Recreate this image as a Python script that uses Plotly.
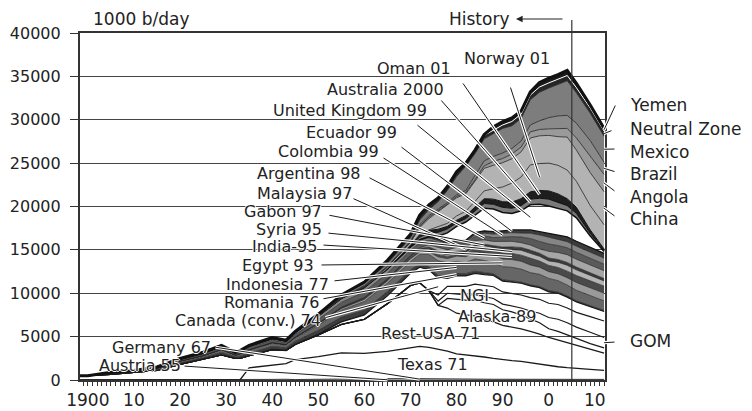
import numpy as np
import plotly.graph_objects as go

# ---------------- data (1000 b/day) ----------------
years = [1898, 1900, 1905, 1910, 1915, 1920, 1925, 1929, 1932, 1933,
         1935, 1940, 1943, 1945, 1950, 1955, 1960, 1965, 1970, 1972,
         1974, 1976, 1978, 1980, 1982, 1984, 1986, 1988, 1990, 1992,
         1994, 1996, 1998, 2000, 2002, 2004, 2006, 2009, 2012]

austria = [0, 0, 0, 0, 0, 0, 0, 0, 0, 0, 0, 20, 30, 20, 30, 60, 50, 50, 40, 35,
           30, 30, 25, 20, 20, 20, 20, 20, 20, 20, 20, 20, 20, 20, 20, 20, 20, 20, 20]
germany = [0, 0, 0, 0, 0, 0, 0, 0, 0, 0, 10, 50, 60, 30, 60, 70, 120, 160, 150, 135,
           120, 100, 95, 90, 80, 80, 80, 70, 70, 70, 70, 60, 60, 60, 60, 50, 50, 50, 50]
texas = [0, 0, 0, 0, 0, 0, 0, 0, 0, 0, 1400, 1600, 1800, 2300, 2600, 3000, 2900, 3100, 3500, 3700,
         3600, 3400, 3200, 2900, 2800, 2700, 2550, 2400, 2250, 2150, 2050, 1900, 1750, 1550, 1450, 1350, 1250, 1150, 1050]
rest_usa = [500, 500, 650, 850, 1100, 1800, 2400, 2900, 2500, 2500, 1390, 1830, 1510, 1750, 2510, 3270, 3930, 5490, 7210, 7330,
            6550, 5070, 4980, 4690, 4600, 4600, 4350, 4210, 3960, 3860, 3760, 3620, 3470, 3270, 3070, 2880, 2680, 2280, 1980]
alaska = [0, 0, 0, 0, 0, 0, 0, 0, 0, 0, 0, 0, 0, 0, 0, 0, 0, 0, 0, 0,
          0, 0, 1100, 1600, 1700, 1800, 1900, 2000, 1800, 1750, 1600, 1450, 1300, 1000, 1000, 900, 800, 700, 600]
gom = [0, 0, 0, 0, 0, 0, 0, 0, 0, 0, 0, 0, 0, 0, 0, 0, 0, 0, 0, 0,
       0, 500, 600, 600, 600, 650, 700, 700, 650, 700, 800, 900, 1100, 1300, 1400, 1400, 1300, 1300, 1200]
ngl = [0, 0, 0, 0, 0, 0, 0, 0, 0, 0, 0, 0, 0, 0, 0, 0, 0, 0, 0, 0,
       0, 700, 800, 900, 1000, 1200, 1300, 1350, 1400, 1450, 1500, 1550, 1600, 1650, 1700, 1700, 1700, 1800, 1900]
canada = [0, 0, 0, 0, 0, 0, 0, 0, 0, 0, 0, 20, 20, 20, 80, 300, 500, 900, 1400, 1800,
          2400, 1900, 900, 1200, 1200, 1250, 1250, 1300, 1250, 1300, 1350, 1350, 1350, 1300, 1300, 1250, 1200, 1150, 1100]
romania = [0, 0, 100, 90, 120, 180, 200, 280, 180, 240, 320, 350, 300, 350, 450, 550, 550, 500, 400, 380,
           380, 350, 300, 280, 260, 250, 230, 200, 160, 140, 140, 130, 130, 160, 150, 150, 140, 130, 120]
indonesia = [0, 0, 100, 100, 150, 200, 220, 300, 180, 240, 320, 370, 300, 380, 600, 800, 1000, 950, 950, 1100,
             1400, 1700, 1500, 1400, 1300, 1400, 1400, 1300, 1500, 1550, 1500, 1400, 1400, 1400, 1300, 1250, 1200, 1150, 1100]
egypt = [0, 0, 0, 0, 0, 0, 0, 50, 30, 40, 60, 80, 70, 90, 150, 200, 250, 280, 330, 280,
         300, 450, 500, 600, 650, 800, 870, 850, 880, 900, 900, 880, 830, 780, 800, 850, 900, 900, 900]
india = [0, 0, 0, 0, 0, 0, 0, 0, 0, 0, 0, 0, 0, 20, 40, 60, 80, 100, 140, 150,
         200, 250, 250, 200, 350, 500, 630, 650, 700, 700, 700, 750, 700, 720, 720, 750, 800, 800, 800]
syria = [0, 0, 0, 0, 0, 0, 0, 0, 0, 0, 0, 0, 0, 0, 0, 20, 40, 40, 80, 120,
         150, 200, 180, 170, 170, 180, 200, 250, 400, 450, 570, 590, 550, 520, 600, 680, 660, 630, 600]
gabon = [0, 0, 0, 0, 0, 0, 0, 0, 0, 0, 0, 0, 0, 0, 20, 40, 60, 60, 110, 120,
         200, 250, 200, 180, 170, 170, 170, 180, 280, 300, 320, 360, 350, 330, 320, 320, 320, 300, 280]
malaysia = [0, 0, 0, 0, 0, 0, 0, 0, 0, 0, 0, 0, 0, 0, 0, 20, 40, 40, 50, 100,
            240, 430, 380, 450, 370, 470, 500, 490, 640, 640, 550, 600, 510, 770, 810, 900, 900, 900, 900]
argentina = [0, 0, 50, 50, 100, 150, 180, 220, 130, 170, 230, 270, 250, 300, 450, 550, 650, 650, 600, 550,
             550, 550, 500, 500, 480, 480, 450, 450, 500, 550, 650, 750, 850, 850, 800, 800, 800, 780, 750]
colombia = [0, 0, 0, 0, 0, 70, 100, 150, 90, 120, 160, 190, 160, 220, 350, 430, 450, 430, 350, 300,
            250, 200, 150, 130, 150, 200, 320, 400, 450, 450, 460, 600, 750, 800, 750, 700, 700, 700, 700]
ecuador = [0, 0, 0, 0, 0, 0, 0, 0, 0, 0, 0, 0, 0, 0, 50, 60, 70, 60, 40, 80,
           180, 200, 200, 200, 210, 250, 280, 280, 290, 320, 360, 390, 380, 420, 450, 550, 580, 560, 550]
united_kingdom = [0, 0, 0, 0, 0, 0, 0, 0, 0, 0, 0, 0, 0, 0, 0, 0, 0, 0, 0, 0,
                  0, 300, 1100, 1600, 2100, 2000, 2600, 2600, 2100, 1900, 2200, 2900, 3150, 3150, 3100, 3000, 2700, 1300, 200]
australia = [0, 0, 0, 0, 0, 0, 0, 0, 0, 0, 0, 0, 0, 0, 0, 0, 0, 0, 100, 300,
             400, 450, 450, 400, 400, 500, 550, 550, 600, 600, 600, 650, 700, 800, 700, 600, 500, 300, 150]
oman = [0, 0, 0, 0, 0, 0, 0, 0, 0, 0, 0, 0, 0, 0, 0, 0, 0, 0, 100, 300,
        300, 350, 300, 300, 350, 400, 550, 600, 650, 700, 800, 850, 900, 950, 950, 800, 700, 400, 150]
norway = [0, 0, 0, 0, 0, 0, 0, 0, 0, 0, 0, 0, 0, 0, 0, 0, 0, 0, 0, 0,
          50, 300, 350, 500, 500, 700, 900, 1200, 1700, 2200, 2500, 3100, 3100, 3200, 3300, 3300, 3000, 2800, 2800]
china = [0, 0, 0, 0, 0, 0, 0, 0, 0, 0, 0, 0, 0, 0, 0, 20, 100, 200, 300, 800,
         1300, 1700, 2100, 2100, 2000, 2300, 2600, 2700, 2800, 2800, 2900, 3100, 3200, 3200, 3300, 3800, 3600, 3800, 3800]
angola = [0, 0, 0, 0, 0, 0, 0, 0, 0, 0, 0, 0, 0, 0, 0, 0, 0, 10, 50, 150,
          170, 100, 120, 150, 130, 200, 280, 450, 480, 550, 550, 700, 730, 750, 900, 1000, 1400, 1900, 2000]
brazil = [0, 0, 0, 0, 0, 0, 0, 0, 0, 0, 0, 0, 0, 0, 10, 50, 80, 100, 100, 170,
          180, 170, 170, 190, 260, 480, 580, 570, 640, 630, 690, 800, 1000, 1300, 1500, 1500, 1700, 1800, 1400]
mexico = [0, 0, 0, 10, 30, 100, 100, 100, 90, 90, 110, 120, 100, 120, 200, 250, 280, 330, 400, 550,
          700, 900, 1400, 2100, 2800, 2520, 2540, 2680, 2830, 2620, 2610, 2900, 3300, 3400, 3600, 4000, 3500, 3150, 3000]
neutral_zone = [0, 0, 0, 0, 0, 0, 0, 0, 0, 0, 0, 0, 0, 0, 0, 50, 150, 350, 400, 550,
                550, 450, 450, 550, 350, 400, 400, 400, 400, 500, 500, 550, 600, 600, 600, 600, 600, 600, 600]
yemen = [0, 0, 0, 0, 0, 0, 0, 0, 0, 0, 0, 0, 0, 0, 0, 0, 0, 0, 0, 0,
         0, 0, 0, 0, 0, 0, 100, 350, 400, 400, 350, 350, 520, 550, 550, 600, 500, 350, 300]

x_tick_vals = [1900, 1910, 1920, 1930, 1940, 1950, 1960, 1970, 1980, 1990, 2000, 2010]
x_tick_text = ["1900", "10", "20", "30", "40", "50", "60", "70", "80", "90", "0", "10"]
y_tick_vals = [0, 5000, 10000, 15000, 20000, 25000, 30000, 35000, 40000]
y_tick_text = ["0", "5000", "10000", "15000", "20000", "25000", "30000", "35000", "40000"]
history_year = 2005

# ---------------- styles ----------------
NONE = "rgba(0,0,0,0)"
layers = [
    ("Austria", austria, NONE, "#222222", 0.8),
    ("Germany", germany, NONE, "#222222", 0.8),
    ("Texas", texas, NONE, "#1a1a1a", 1.3),
    ("Rest-USA", rest_usa, NONE, "#1a1a1a", 1.3),
    ("Alaska", alaska, NONE, "#1a1a1a", 1.2),
    ("GOM", gom, NONE, "#1a1a1a", 1.2),
    ("NGL", ngl, NONE, "#1a1a1a", 1.2),
    ("Canada", canada, NONE, "#1a1a1a", 1.2),
    ("Romania", romania, "#3c3c3c", "#222222", 0.7),
    ("Indonesia", indonesia, "#666666", "#222222", 0.7),
    ("Egypt", egypt, "#9a9a9a", "#222222", 0.7),
    ("India", india, "#4a4a4a", "#222222", 0.7),
    ("Syria", syria, "#b4b4b4", "#222222", 0.7),
    ("Gabon", gabon, "#3c3c3c", "#222222", 0.7),
    ("Malaysia", malaysia, "#a6a6a6", "#222222", 0.7),
    ("Argentina", argentina, "#5a5a5a", "#222222", 0.7),
    ("Colombia", colombia, "#858585", "#222222", 0.7),
    ("Ecuador", ecuador, "#3c3c3c", "#111111", 1.2),
    ("United Kingdom", united_kingdom, NONE, "#111111", 1.5),
    ("Australia", australia, "#7a7a7a", "#111111", 1.0),
    ("Oman", oman, "#1e1e1e", "#111111", 1.0),
    ("Norway", norway, "#b3b3b3", "#222222", 0.8),
    ("China", china, "#b3b3b3", "#222222", 0.8),
    ("Angola", angola, "#9a9a9a", "#222222", 0.8),
    ("Brazil", brazil, "#8a8a8a", "#222222", 0.8),
    ("Mexico", mexico, "#7d7d7d", "#222222", 0.8),
    ("Neutral Zone", neutral_zone, "#262626", "#ffffff", 1.0),
    ("Yemen", yemen, "#1a1a1a", "#111111", 3.0),
]

FONT = "DejaVu Sans"
INK = "#222222"
HALO = "1px 0px 0px #fff, -1px 0px 0px #fff, 0px 1px 0px #fff, 0px -1px 0px #fff"

# geometry in page pixels (the page body adds an 8 px offset)
W, H = 752, 411
OFF = 8
L_PX, R_PX, T_PX, B_PX = 80, 605, 33, 380
X0, X1 = 1898.3, 2012.2
Y0, Y1 = 0, 40000


def px2x(px):
    return X0 + (px - L_PX) / (R_PX - L_PX) * (X1 - X0)


def py2y(py):
    return Y0 + (B_PX - py) / (B_PX - T_PX) * (Y1 - Y0)


def px2paper(px):
    return (px - L_PX) / (R_PX - L_PX)


def py2paper(py):
    return (B_PX - py) / (B_PX - T_PX)


fig = go.Figure()
for name, vals, fill, lc, lw in layers:
    fig.add_trace(go.Scatter(
        x=years, y=vals, name=name, mode="lines", stackgroup="all",
        line=dict(color=lc, width=lw), fillcolor=fill, hoverinfo="skip",
        showlegend=False))

names = [l[0] for l in layers]
cum = np.cumsum(np.array([l[1] for l in layers], dtype=float), axis=0)


def layer_mid(name, yr):
    k = names.index(name)
    j = years.index(yr)
    lo = cum[k - 1][j] if k > 0 else 0.0
    return (lo + cum[k][j]) / 2.0


def leader(tail_px, tail_py, name, yr):
    tx, ty = yr, layer_mid(name, yr)
    for w, c in ((3.2, "#ffffff"), (1.0, "#1a1a1a")):
        fig.add_annotation(x=tx, y=ty, xref="x", yref="y",
                           ax=px2x(tail_px), ay=py2y(tail_py), axref="x", ayref="y",
                           text="", showarrow=True, arrowhead=0, arrowwidth=w,
                           arrowcolor=c, standoff=0, startstandoff=0)


def label(text, px, py, anchor="right", size=16):
    fig.add_annotation(x=px2paper(px), y=py2paper(py), xref="paper", yref="paper",
                       text=text, showarrow=False, xanchor=anchor, yanchor="middle",
                       borderpad=0,
                       font=dict(family=FONT, size=size, color=INK, shadow=HALO))


# left-side labels: (text, right-end px, centre py, leader tail px, py, layer, year)
left_labels = [
    ("Norway 01", 551, 58, 510, 86, "Norway", 1998),
    ("Oman 01", 452, 68, 462, 82, "Oman", 1998),
    ("Australia 2000", 445, 89, 440, 99, "Australia", 1996),
    ("United Kingdom 99", 428, 111, 416, 124, "United Kingdom", 1996),
    ("Ecuador 99", 398, 133, 400, 146, "Ecuador", 1992),
    ("Colombia 99", 380, 151, 382, 157, "Colombia", 1990),
    ("Argentina 98", 362, 173, 368, 177, "Argentina", 1986),
    ("Malaysia 97", 353, 193, 352, 198, "Malaysia", 1982),
    ("Gabon 97", 323, 211, 328, 215, "Gabon", 1986),
    ("Syria 95", 323, 229, 327, 233, "Syria", 1992),
    ("India-95", 318, 247, 322, 245, "India", 1992),
    ("Egypt 93", 315, 265, 320, 265, "Egypt", 1990),
    ("Indonesia 77", 330, 284, 333, 281, "Indonesia", 1980),
    ("Romania 76", 320, 302, 322, 299, "Romania", 1980),
    ("Canada (conv.) 74", 322, 320, 324, 318, "Canada", 1976),
    ("Germany 67", 212, 347, 214, 347, "Germany", 1972),
    ("Austria 55", 182, 365, 183, 366, "Austria", 1965),
]
for text, rx, cy, tpx, tpy, lname, yr in left_labels:
    leader(tpx, tpy, lname, yr)

# right-side labels: (text, centre py, leader tail px, py, layer)
right_labels = [
    ("Yemen", 105, 616, 104, "Yemen"),
    ("Neutral Zone", 129, 613, 130, "Neutral Zone"),
    ("Mexico", 152, 616, 149, "Mexico"),
    ("Brazil", 174, 616, 172, "Brazil"),
    ("Angola", 197, 616, 192, "Angola"),
    ("China", 219, 616, 217, "China"),
    ("GOM", 341, 616, 342, "GOM"),
]
for text, cy, tpx, tpy, lname in right_labels:
    leader(tpx, tpy, lname, years[-1])

for text, rx, cy, tpx, tpy, lname, yr in left_labels:
    label(text, rx, cy, "right", 16)
for text, cy, tpx, tpy, lname in right_labels:
    label(text, 629, cy, "left", 17)

# labels written inside the US layers
label("NGI", 474, 295, "center", 16)
label("Alaska-89", 497, 316, "center", 16)
label("Rest-USA 71", 430, 333, "center", 16)
label("Texas 71", 432, 364, "center", 16)

# unit and history marker
label("1000 b/day", 92, 19, "left", 17)
label("History", 510, 19, "right", 17)
fig.add_annotation(x=px2paper(516), y=py2paper(19), xref="paper", yref="paper",
                   ax=48, ay=0, text="", showarrow=True, arrowhead=2, arrowsize=1.1,
                   arrowwidth=1.2, arrowcolor=INK, standoff=0)
hx = (history_year - X0) / (X1 - X0)
fig.add_shape(type="line", xref="paper", yref="paper", x0=hx, x1=hx, y0=0,
              y1=py2paper(20), line=dict(color="#333333", width=1.2))

fig.update_layout(
    width=W, height=H,
    margin=dict(l=L_PX - OFF, r=W - R_PX + OFF, t=T_PX - OFF, b=H - B_PX + OFF, pad=0),
    paper_bgcolor="white", plot_bgcolor="white",
    font=dict(family=FONT, size=17, color=INK),
    showlegend=False,
    xaxis=dict(range=[X0, X1], tickmode="array", tickvals=x_tick_vals, ticktext=x_tick_text,
               ticks="outside", ticklen=4, tickwidth=1, tickcolor="#333333",
               showline=True, linecolor="#333333", linewidth=1.5, mirror=True,
               showgrid=False, zeroline=False, ticklabelstandoff=0, automargin=False,
               tickfont=dict(family=FONT, size=17, color=INK),
               minor=dict(dtick=1, ticks="outside", ticklen=4, tickwidth=1,
                          tickcolor="#333333", showgrid=False)),
    yaxis=dict(range=[Y0, Y1], tickmode="array", tickvals=y_tick_vals, ticktext=y_tick_text,
               ticks="outside", ticklen=8, tickwidth=1, tickcolor="#333333",
               showline=True, linecolor="#333333", linewidth=2.2, mirror=True,
               showgrid=True, gridcolor="#444444", gridwidth=1, zeroline=False,
               ticklabelstandoff=6, automargin=False,
               tickfont=dict(family=FONT, size=16, color=INK)),
)

fig.write_html("out.html")
